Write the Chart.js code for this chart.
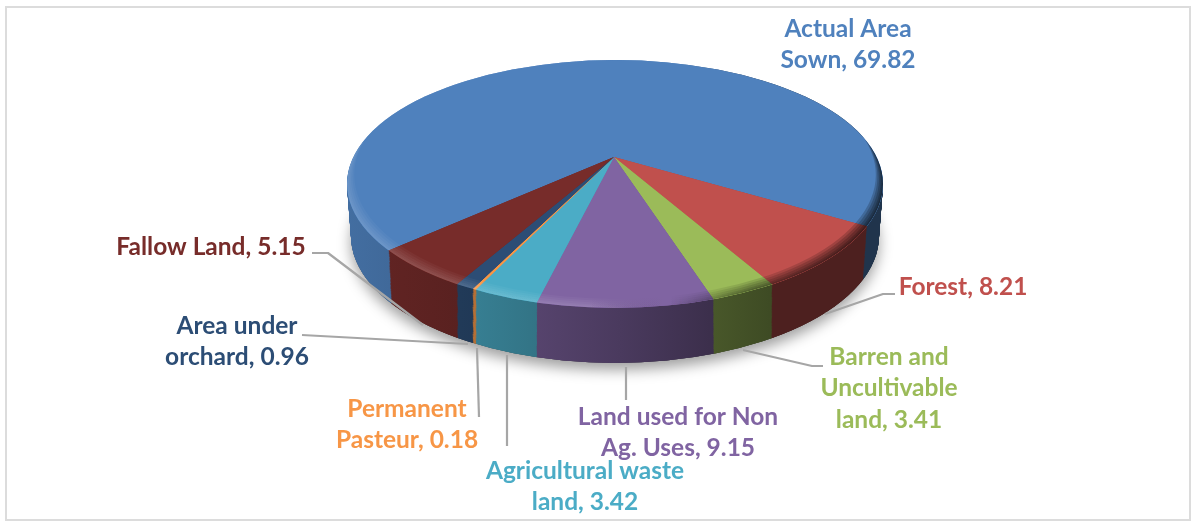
<!DOCTYPE html>
<html><head><meta charset="utf-8">
<style>html,body{margin:0;padding:0;background:#fff}canvas{display:block}</style>
<script src="https://cdn.jsdelivr.net/npm/chart.js@4"></script>
</head><body><canvas id="c" width="1196" height="521"></canvas>
<script>
const categories = ['Actual Area Sown','Forest','Barren and Uncultivable land','Land used for Non Ag. Uses','Agricultural waste land','Permanent Pasteur','Area under orchard','Fallow Land'];
const values = [69.82,8.21,3.41,9.15,3.42,0.18,0.96,5.15];
const colors = ['#4f81bd','#c0504d','#9bbb59','#8064a2','#4bacc6','#f79646','#2c4d75','#772c2a'];
const labelLines = [['Actual Area','Sown, 69.82'],['Forest, 8.21'],['Barren and','Uncultivable','land, 3.41'],['Land used for Non','Ag. Uses, 9.15'],['Agricultural waste','land, 3.42'],['Permanent','Pasteur, 0.18'],['Area under','orchard, 0.96'],['Fallow Land, 5.15']];
const labelPos = [[848,29],[963,287],[889,357],[678,417],[585,471],[407,409],[237,326],[211,247]];
const leaders = [null,[[825,314],[883,294],[895,294]],[[743,350],[812,366],[823,366]],[[626,367],[626,400]],[[507,355],[507,446]],[[477,348],[479,417]],[[468,344],[302,335]],[[423,325],[328,253],[312,253]]];

const APEX={x:614,y:157}, TOP={x:615,y:184,rx:268,ry:124}, SQUASH=0.48, DEPTH=50;
const BOTTOM={x:615,y:236,rx:264,ry:127};
const shadeStops=[[347,.85],[460,.75],[530,.68],[620,.58],[710,.47],[770,.4],[883,.4]];
const hex=h=>[1,3,5].map(i=>parseInt(h.substr(i,2),16));
function sideGradient(ctx,col){
  const g=ctx.createLinearGradient(347,0,883,0),c=hex(col);
  shadeStops.forEach(([x,f])=>g.addColorStop((x-347)/536,`rgb(${c.map(v=>Math.round(v*f)).join(',')})`));
  return g;
}
function lerpE(t){return {x:TOP.x+(BOTTOM.x-TOP.x)*t,y:TOP.y+(BOTTOM.y-TOP.y)*t,rx:TOP.rx+(BOTTOM.rx-TOP.rx)*t,ry:TOP.ry+(BOTTOM.ry-TOP.ry)*t};}
function ePath(ctx,e){ctx.ellipse(e.x,e.y,e.rx,e.ry,0,0,Math.PI*2);}
function drawSlices(ctx,meta,dy,fill){
  ctx.translate(APEX.x,APEX.y+dy);ctx.scale(1,SQUASH);ctx.translate(-APEX.x,-APEX.y);
  meta.data.forEach((el,i)=>{
    const o=el.options;
    el.options=Object.assign({},o,{backgroundColor:fill[i]});
    el.draw(ctx);el.draw(ctx);
    el.options=o;
  });
}
const pie3d={id:'pie3d',
  beforeDatasetsDraw(chart){
    const ctx=chart.ctx,meta=chart.getDatasetMeta(0);
    ctx.save();ctx.shadowColor='rgba(0,0,0,.38)';ctx.shadowBlur=14;ctx.shadowOffsetY=7;ctx.fillStyle='#333';
    ctx.beginPath();ePath(ctx,BOTTOM);ctx.fill();ctx.restore();
    const side=colors.map(c=>sideGradient(ctx,c));
    for(let d=DEPTH;d>=1;d--){
      const t=d/DEPTH;
      ctx.save();ctx.beginPath();ePath(ctx,lerpE(t));ctx.clip();
      drawSlices(ctx,meta,d+4*t,side);ctx.restore();
    }
    ctx.save();ctx.beginPath();ePath(ctx,TOP);ctx.clip();
    ctx.save();drawSlices(ctx,meta,0,colors);ctx.restore();
    const g=ctx.createLinearGradient(347,0,883,0);
    g.addColorStop(0,'rgba(255,255,255,.035)');
    g.addColorStop(.45,'rgba(255,255,255,.035)');
    g.addColorStop(.6,'rgba(0,0,0,.0)');
    g.addColorStop(.75,'rgba(0,0,0,.12)');
    g.addColorStop(1,'rgba(0,0,0,.2)');
    ctx.fillStyle=g;
    [9,7,5,3,1.5].forEach(w=>{
      ctx.beginPath();ePath(ctx,TOP);
      ePath(ctx,{x:TOP.x,y:TOP.y-w,rx:TOP.rx-w*.8,ry:TOP.ry});
      ctx.fill('evenodd');
    });
    ctx.restore();
    return false;
  },
  afterDraw(chart){
    const ctx=chart.ctx;
    ctx.save();
    ctx.strokeStyle='#dcdcdc';ctx.lineWidth=2;ctx.strokeRect(6,7,1184,513);
    ctx.strokeStyle='#a6a6a6';ctx.lineWidth=2.2;ctx.lineJoin='round';
    leaders.forEach(l=>{if(!l)return;ctx.beginPath();l.forEach((p,i)=>i?ctx.lineTo(p[0],p[1]):ctx.moveTo(p[0],p[1]));ctx.stroke();});
    ctx.font='bold 24.5px Lato';ctx.textAlign='center';ctx.textBaseline='middle';
    labelLines.forEach((ls,i)=>{
      ctx.fillStyle=colors[i];
      ls.forEach((s,j)=>ctx.fillText(s,labelPos[i][0],labelPos[i][1]+j*31.5));
    });
    ctx.restore();
  }
};
new Chart(document.getElementById('c'),{
  type:'pie',
  data:{labels:categories,datasets:[{data:values,backgroundColor:colors,borderWidth:0}]},
  options:{responsive:false,animation:false,rotation:229.15,radius:420,
    layout:{padding:{left:32,bottom:207}},
    plugins:{legend:{display:false},tooltip:{enabled:false}}},
  plugins:[pie3d]
});
</script></body></html>
